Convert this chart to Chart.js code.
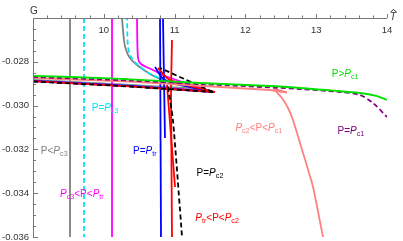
<!DOCTYPE html>
<html>
<head>
<meta charset="utf-8">
<script src="https://cdn.jsdelivr.net/npm/chart.js@4.4.1/dist/chart.umd.min.js"></script>
<style>
  html, body { margin: 0; padding: 0; background: #fff; }
</style>
</head>
<body>
<canvas id="gChart" width="403" height="241"></canvas>
<script>
// axis ranges and ticks
const tRange = [9, 14];
const gRange = [-0.036, -0.026];
const tTicks = [10, 11, 12, 13, 14];
const gTicks = [-0.028, -0.030, -0.032, -0.034, -0.036];
const tMinorStep = 0.2;
const gMinorStep = 0.0005;

// branches of G(T), [T, G] pairs
// P < Pc3
const grayVert = [[9.523, -0.026], [9.523, -0.036]];
const grayLow = [[9.0, -0.028831], [10.37, -0.029059], [11.359, -0.029242]];
const grayUp = [[11.359, -0.029242], [11.006, -0.029014], [10.794, -0.028785], [10.653, -0.028557], [10.469, -0.028146], [10.37, -0.027826], [10.314, -0.027461], [10.285, -0.027005], [10.257, -0.026]];
// P = Pc3
const cyanVert = [[9.72, -0.026], [9.72, -0.036]];
const cyanLow = [[9.0, -0.028854], [10.37, -0.029082], [11.429, -0.029288]];
const cyanUp = [[11.429, -0.029288], [10.794, -0.02874], [10.653, -0.028557], [10.469, -0.0281], [10.384, -0.027781], [10.342, -0.027324], [10.328, -0.026]];
// Pc3 < P < Ptr
const magVert = [[10.116, -0.026], [10.116, -0.036]];
const magLow = [[9.0, -0.028868], [10.37, -0.029105], [11.5, -0.029333]];
const magUp = [[11.5, -0.029333], [10.864, -0.028648], [10.695, -0.028374], [10.525, -0.0281], [10.483, -0.027826], [10.469, -0.026]];
// P = Ptr
const blueVertA = [[10.794, -0.026], [10.808, -0.036]];
const blueVertB = [[10.836, -0.026], [10.864, -0.031479]];
const blueLow = [[9.0, -0.028877], [10.37, -0.029105], [11.542, -0.029379]];
const blueUp = [[11.542, -0.029379], [10.864, -0.02883], [10.723, -0.028237]];
// Ptr < P < Pc2
const redVertA = [[10.963, -0.027005], [10.949, -0.029288], [10.963, -0.036]];
const redVertB = [[10.893, -0.029059], [11.006, -0.033717]];
const redLow = [[9.0, -0.028886], [10.37, -0.029119], [11.571, -0.029379]];
const redUp = [[11.571, -0.029379], [10.935, -0.02883], [10.766, -0.028283]];
// P = Pc2
const blackLow = [[9.0, -0.0289], [10.37, -0.029128], [11.542, -0.029379]];
const blackUp = [[11.542, -0.029379], [10.794, -0.028283]];
const blackVert = [[10.907, -0.029151], [10.977, -0.030658], [11.105, -0.036]];
// Pc2 < P < Pc1
const salmonLow = [[9.0, -0.02874], [10.37, -0.0289], [12.347, -0.029288], [12.588, -0.029402]];
const salmonUp = [[12.588, -0.029402], [12.404, -0.029242], [12.517, -0.029653], [12.602, -0.03011], [12.672, -0.030658], [12.814, -0.032164], [12.955, -0.033717], [13.096, -0.036], [13.11, -0.036183]];
// P = Pc1
const purpleLine = [[9.0, -0.028694], [10.37, -0.028854], [11.359, -0.029014], [12.771, -0.029242], [13.336, -0.029379], [13.619, -0.029516], [13.802, -0.029881], [14.0, -0.030521]];
// P > Pc1
const greenLine = [[9.0, -0.028639], [10.088, -0.028753], [10.37, -0.028799], [11.359, -0.028968], [12.347, -0.029105], [12.771, -0.029196], [13.619, -0.029425], [13.859, -0.029562], [14.0, -0.029744]];

// curve labels: text parts and anchor (T, G)
const labelParts = [
  [['P>', 'n'], ['P', 'i'], ['c1', 's']],
  [['P=', 'n'], ['P', 'i'], ['c1', 's']],
  [['P', 'i'], ['c2', 's'], ['<P<', 'n'], ['P', 'i'], ['c1', 's']],
  [['P=', 'n'], ['P', 'i'], ['c2', 's']],
  [['P', 'i'], ['tr', 's'], ['<P<', 'n'], ['P', 'i'], ['c2', 's']],
  [['P=', 'n'], ['P', 'i'], ['tr', 's']],
  [['P', 'i'], ['c3', 's'], ['<P<', 'n'], ['P', 'i'], ['tr', 's']],
  [['P<', 'n'], ['P', 'i'], ['c3', 's']],
  [['P=', 'n'], ['P', 'i'], ['c3', 's']]
];
const labelT = [13.41, 13.49, 12.19, 11.50, 11.60, 10.58, 9.69, 9.30, 10.02];
const labelG = [-0.02851, -0.03111, -0.03098, -0.03303, -0.03509, -0.03203, -0.03399, -0.03203, -0.03006];

const colors = {
  green: 'rgb(0,225,0)', purple: 'rgb(128,0,128)', salmon: 'rgb(255,128,128)',
  black: '#000', red: 'rgb(255,0,0)', blue: 'rgb(0,0,255)',
  magenta: 'rgb(255,0,255)', gray: 'rgb(128,128,128)', cyan: 'rgb(0,230,245)'
};
const labelColors = [colors.green, colors.purple, colors.salmon, colors.black, colors.red,
  colors.blue, colors.magenta, colors.gray, colors.cyan];

function line(pts, color, dash, tension) {
  return {
    data: pts.map(p => ({ x: p[0], y: p[1] })),
    borderColor: color,
    borderWidth: 1.8,
    borderDash: dash || [],
    pointRadius: 0,
    tension: tension || 0,
    fill: false
  };
}

const datasets = [
  line(greenLine, colors.green, null, 0.3),
  line(purpleLine, colors.purple, [5, 3], 0.3),
  line(salmonLow, colors.salmon),
  line(salmonUp, colors.salmon, null, 0.2),
  line(blackLow, colors.black, [5, 3]),
  line(blackUp, colors.black, [5, 3]),
  line(blackVert, colors.black, [5, 3], 0.2),
  line(redLow, colors.red),
  line(redUp, colors.red, null, 0.3),
  line(redVertA, colors.red),
  line(redVertB, colors.red),
  line(blueLow, colors.blue),
  line(blueUp, colors.blue, null, 0.3),
  line(blueVertA, colors.blue),
  line(blueVertB, colors.blue),
  line(magLow, colors.magenta),
  line(magUp, colors.magenta, null, 0.3),
  line(magVert, colors.magenta),
  line(cyanLow, colors.cyan, [5, 3]),
  line(cyanUp, colors.cyan, [5, 3], 0.3),
  line(cyanVert, colors.cyan, [5, 3]),
  line(grayLow, colors.gray),
  line(grayUp, colors.gray, null, 0.3),
  line(grayVert, colors.gray)
];

const FONT = '"Liberation Sans", Arial, sans-serif';

function richText(ctx, parts, cx, cy, color, size) {
  const fonts = {
    n: size + 'px ' + FONT,
    i: 'italic ' + size + 'px ' + FONT,
    s: (size * 0.72).toFixed(1) + 'px ' + FONT
  };
  let w = 0;
  parts.forEach(([txt, st]) => { ctx.font = fonts[st]; w += ctx.measureText(txt).width; });
  let xx = cx - w / 2;
  const base = cy + size * 0.36;
  ctx.fillStyle = color;
  ctx.textAlign = 'left';
  ctx.textBaseline = 'alphabetic';
  parts.forEach(([txt, st]) => {
    ctx.font = fonts[st];
    ctx.fillText(txt, xx, st === 's' ? base + size * 0.22 : base);
    xx += ctx.measureText(txt).width;
  });
}

// axes drawn Mathematica style: T axis along the top, ticks outward, labels inside
const axesPlugin = {
  id: 'axes',
  afterDraw(chart) {
    const { ctx, chartArea: a, scales: { x, y } } = chart;
    ctx.save();
    ctx.strokeStyle = '#777';
    ctx.lineWidth = 1;
    ctx.beginPath();
    ctx.moveTo(a.left, a.top + 0.5); ctx.lineTo(a.right, a.top + 0.5);
    ctx.moveTo(a.left + 0.5, a.top); ctx.lineTo(a.left + 0.5, a.bottom);
    ctx.stroke();

    ctx.beginPath();
    for (let t = tRange[0] + tMinorStep; t <= tRange[1] + 1e-9; t += tMinorStep) {
      const px = Math.round(x.getPixelForValue(t)) + 0.5;
      const major = tTicks.some(v => Math.abs(v - t) < 1e-6);
      ctx.moveTo(px, a.top); ctx.lineTo(px, a.top - (major ? 4 : 2.5));
    }
    for (let g = gRange[0]; g <= gRange[1] - gMinorStep / 2; g += gMinorStep) {
      const py = Math.round(y.getPixelForValue(g)) + 0.5;
      const major = gTicks.some(v => Math.abs(v - g) < 1e-7);
      ctx.moveTo(a.left, py); ctx.lineTo(a.left + (major ? 5 : 3), py);
    }
    ctx.stroke();

    ctx.fillStyle = '#333';
    ctx.font = '9.5px ' + FONT;
    ctx.textAlign = 'center';
    ctx.textBaseline = 'middle';
    tTicks.forEach(t => ctx.fillText(String(t), x.getPixelForValue(t), a.top + 12));
    ctx.textAlign = 'right';
    gTicks.forEach(g => ctx.fillText('-' + Math.abs(g).toFixed(3), a.left - 4, y.getPixelForValue(g)));

    // axis labels
    ctx.textAlign = 'center';
    ctx.font = '10px ' + FONT;
    ctx.fillText('G', a.left + 1, a.top - 7);
    ctx.font = 'italic 10px ' + FONT;
    ctx.textBaseline = 'alphabetic';
    const tx = a.right + 6;
    ctx.fillText('T', tx, a.top + 2);
    ctx.beginPath();
    ctx.moveTo(tx - 2.5, a.top - 6); ctx.lineTo(tx + 0.5, a.top - 8.5); ctx.lineTo(tx + 3.5, a.top - 6);
    ctx.strokeStyle = '#333';
    ctx.stroke();

    labelParts.forEach((parts, i) => {
      richText(ctx, parts, x.getPixelForValue(labelT[i]), y.getPixelForValue(labelG[i]), labelColors[i], 10);
    });
    ctx.restore();
  }
};

new Chart(document.getElementById('gChart').getContext('2d'), {
  type: 'line',
  data: { datasets: datasets },
  options: {
    responsive: false,
    animation: false,
    devicePixelRatio: 1,
    layout: { padding: { left: 33, right: 16, top: 18, bottom: 4 } },
    plugins: { legend: { display: false }, tooltip: { enabled: false } },
    scales: {
      x: { type: 'linear', min: tRange[0], max: tRange[1], display: false },
      y: { type: 'linear', min: gRange[0], max: gRange[1], display: false }
    }
  },
  plugins: [axesPlugin]
});
</script>
</body>
</html>
